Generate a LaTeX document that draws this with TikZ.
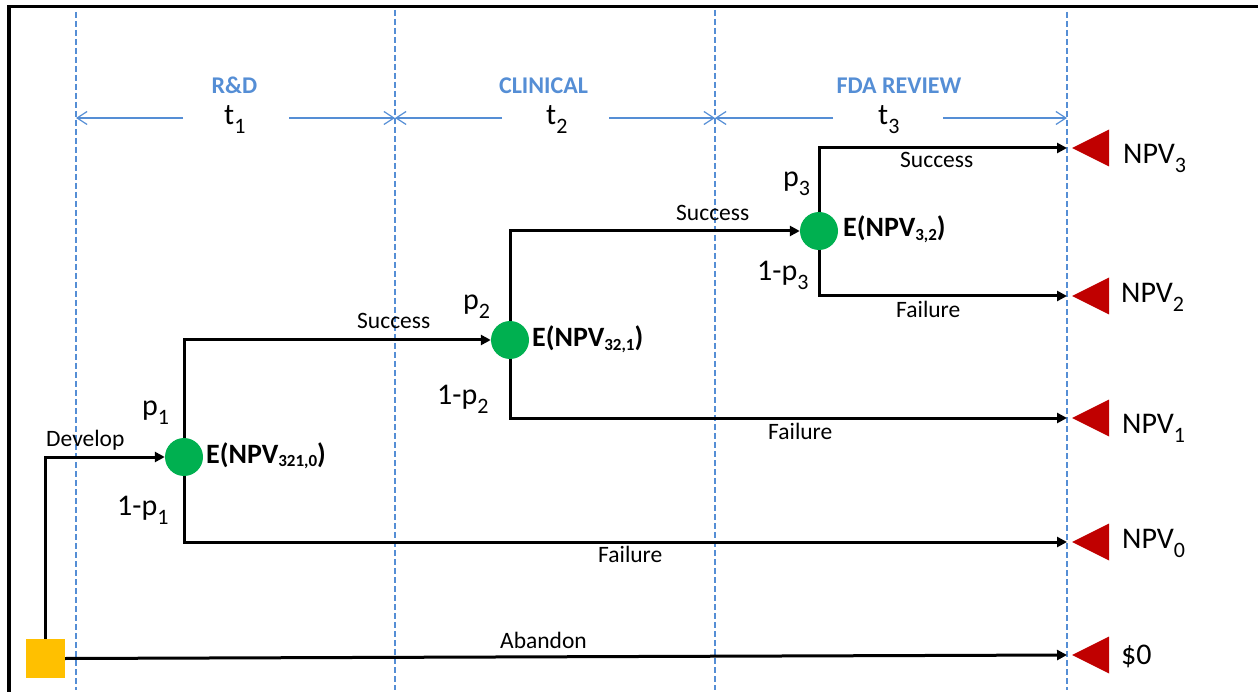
\documentclass[tikz,border=0pt]{standalone}
\usepackage{fontspec}
\setmainfont{Carlito}
\usetikzlibrary{arrows.meta}
\definecolor{dgreen}{RGB}{0,176,80}
\definecolor{sqorange}{RGB}{255,192,0}
\definecolor{tred}{RGB}{192,0,0}
\definecolor{pblue}{RGB}{85,142,213}
\newcommand\sbA[1]{\raisebox{-0.3em}{\fontsize{22}{24}\selectfont #1}}
\newcommand\sbE[1]{\raisebox{-0.12em}{\fontsize{17}{20}\selectfont #1}}
\begin{document}
\begin{tikzpicture}[x=1pt,y=-1pt,
  lab/.style={font=\fontsize{23.5}{26}\selectfont, inner sep=0pt},
  big/.style={font=\fontsize{30}{34}\selectfont, inner sep=0pt},
  ev/.style={font=\fontsize{28}{32}\selectfont\bfseries, inner sep=0pt},
  phase/.style={font=\fontsize{24}{28}\selectfont\bfseries, text=pblue, inner sep=0pt},
  vdash/.style={draw=pblue, line width=1.8pt, dash pattern=on 6pt off 3pt},
  dimline/.style={draw=pblue, line width=1.2pt, -{Straight Barb[length=10pt,width=13pt,line width=1.2pt]}},
  branch/.style={line width=3pt, -{Triangle[length=10pt,width=10pt]}},
  chance/.style={circle, fill=dgreen, minimum size=38pt, inner sep=0pt},
  sqnode/.style={rectangle, fill=sqorange, minimum size=39pt, inner sep=0pt},
  termtri/.style={fill=tred}]
\useasboundingbox (0,0) rectangle (1258,692);
\clip (0,0) rectangle (1258,692);
% frame
\draw[line width=3.3pt] (9,720) -- (9,6.7) -- (1290,6.7);
% phase dashed lines
\foreach \x/\t in {76/12,395/10,715/10,1067/12}
  \draw[vdash] (\x,\t) -- (\x,690);
% phase labels
\node[phase, anchor=base] (rd) at (234.5,94) {R\&D};
\node[phase, anchor=base] (cl) at (543.5,94) {CLINICAL};
\node[phase, anchor=base] (fda) at (899,94) {FDA REVIEW};
\node[big, anchor=base west] (t1) at (224,125) {t\sbA{1}};
\node[big, anchor=base west] (t2) at (546,125) {t\sbA{2}};
\node[big, anchor=base west] (t3) at (878,125) {t\sbA{3}};
\coordinate (v0) at (76,118);
\coordinate (v1) at (395,118);
\coordinate (v2) at (715,118);
\coordinate (v3) at (1067,118);
\coordinate (g1l) at (183,118); \coordinate (g1r) at (289,118);
\coordinate (g2l) at (502,118); \coordinate (g2r) at (609,118);
\coordinate (g3l) at (833,118); \coordinate (g3r) at (943,118);
\draw[dimline] (g1l) -- (v0);
\draw[dimline] (g1r) -- (v1);
\draw[dimline] (g2l) -- (v1);
\draw[dimline] (g2r) -- (v2);
\draw[dimline] (g3l) -- (v2);
\draw[dimline] (g3r) -- (v3);
% tree nodes
\node[sqnode] (sq) at (45.5,658.5) {};
\node[chance] (c1) at (184,457) {};
\node[chance] (c2) at (510,340) {};
\node[chance] (c3) at (819,231) {};
\coordinate (e3) at (1067,148);
\coordinate (e2) at (1067,296);
\coordinate (e1) at (1067,418);
\coordinate (e0) at (1067,542);
\coordinate (ez) at (1067,655);
\foreach \n in {e3,e2,e1,e0,ez}
  \fill[termtri] ([xshift=5pt]\n) -- ++(37,-18.5) -- ++(0,37) -- cycle;
% branches
\draw[branch] (sq.north) |- (c1.west);
\draw[branch] (c1.north) |- (c2.west);
\draw[branch] (c1.south) |- (e0);
\draw[branch] (c2.north) |- (c3.west);
\draw[branch] (c2.south) |- (e1);
\draw[branch] (c3.north) |- (e3);
\draw[branch] (c3.south) |- (e2);
\draw[branch] (sq.east) -- (ez);
% branch labels
\node[lab, anchor=base west] (ldev) at (46,446) {Develop};
\node[lab, anchor=base west] (ls1) at (357,329) {Success};
\node[lab, anchor=base west] (ls2) at (676,221) {Success};
\node[lab, anchor=base west] (ls3) at (900,168) {Success};
\node[lab, anchor=base west] (lf1) at (598,562) {Failure};
\node[lab, anchor=base west] (lf2) at (768,439) {Failure};
\node[lab, anchor=base west] (lf3) at (896,318) {Failure};
\node[lab, anchor=base west] (lab0) at (500,648) {Abandon};
% probabilities
\node[big, anchor=base west] (p1) at (142,415) {p\sbA{1}};
\node[big, anchor=base west] (q1) at (117,515) {1-p\sbA{1}};
\node[big, anchor=base west] (p2) at (463,310) {p\sbA{2}};
\node[big, anchor=base west] (q2) at (437,404) {1-p\sbA{2}};
\node[big, anchor=base west] (p3) at (783,187) {p\sbA{3}};
\node[big, anchor=base west] (q3) at (757,281) {1-p\sbA{3}};
% expected values
\node[ev, anchor=base west] (ev1) at (206,463) {E(NPV\sbE{321,0})};
\node[ev, anchor=base west] (ev2) at (532,347) {E(NPV\sbE{32,1})};
\node[ev, anchor=base west] (ev3) at (843,237) {E(NPV\sbE{3,2})};
% payoffs
\node[big, anchor=base west] (n3) at (1123,164) {NPV\sbA{3}};
\node[big, anchor=base west] (n2) at (1121,303) {NPV\sbA{2}};
\node[big, anchor=base west] (n1) at (1122,433) {NPV\sbA{1}};
\node[big, anchor=base west] (n0) at (1122,548) {NPV\sbA{0}};
\node[big, anchor=base west] (nz) at (1121,664) {\$0};
\end{tikzpicture}
\end{document}
